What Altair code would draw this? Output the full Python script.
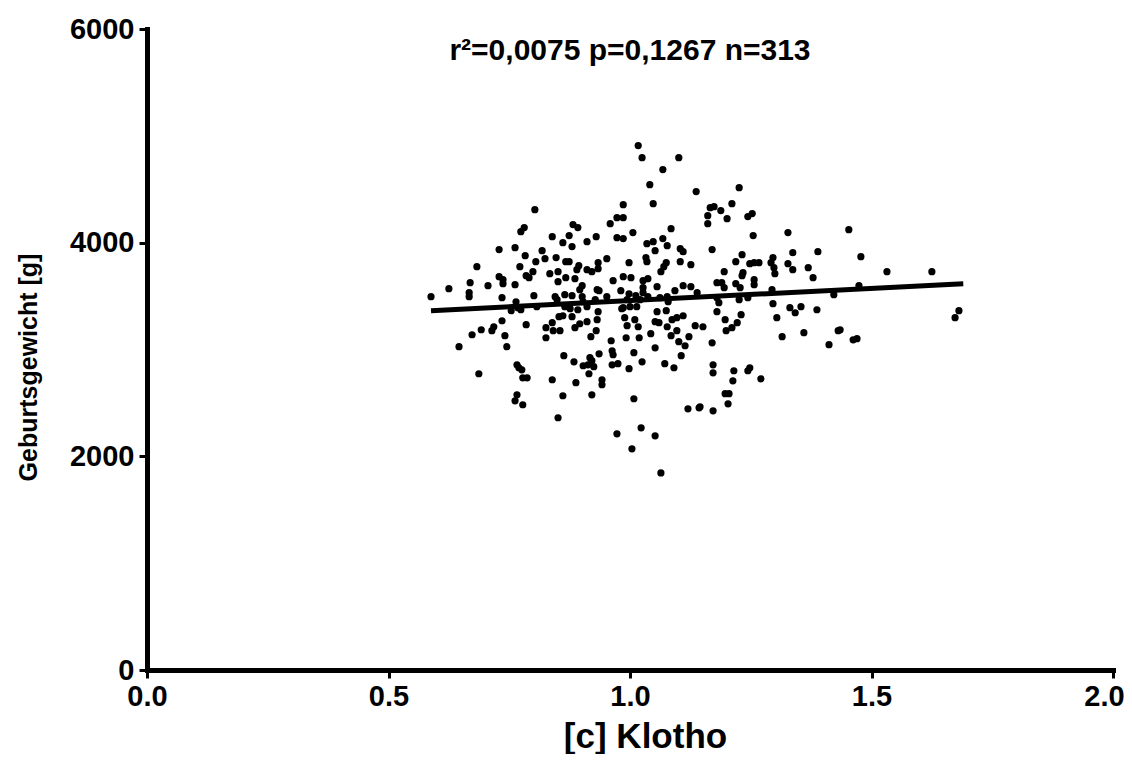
import altair as alt
import pandas as pd

# ---- data ----
klotho = [
    0.803, 0.781, 0.774, 0.839, 0.729, 0.762, 0.818, 0.783, 0.805, 0.824,
    0.847, 0.683, 0.772, 0.799, 0.785, 0.791, 0.834, 0.851, 0.729, 0.737,
    0.737, 0.669, 0.706, 0.762, 0.851, 0.625, 0.667, 0.667, 0.588, 0.735,
    0.801, 0.845, 0.764, 0.807, 0.768, 0.849, 0.754, 0.774, 0.735, 0.785,
    0.826, 0.839, 0.841, 0.853, 0.855, 0.692, 0.673, 0.718, 0.714, 0.741,
    0.826, 0.646, 0.745, 0.766, 0.770, 0.776, 0.687, 0.778, 0.787, 0.839,
    0.766, 0.762, 0.778, 0.851, 1.017, 1.025, 1.101, 1.068, 1.041, 1.137,
    0.986, 1.048, 0.973, 0.986, 0.959, 0.882, 0.892, 1.006, 1.085, 0.874,
    0.930, 0.861, 0.880, 0.911, 0.973, 0.986, 1.035, 1.048, 1.068, 1.077,
    1.052, 1.104, 1.110, 0.952, 1.033, 1.035, 0.867, 0.874, 0.894, 0.890,
    0.934, 0.998, 1.075, 1.070, 1.064, 1.104, 1.126, 0.911, 0.921, 0.934,
    0.867, 0.886, 0.965, 0.986, 1.002, 1.027, 1.037, 0.901, 0.896, 0.932,
    0.936, 0.981, 0.998, 1.056, 1.027, 1.027, 1.093, 1.110, 1.126, 0.865,
    0.880, 0.901, 0.952, 1.012, 1.037, 1.077, 0.903, 0.911, 0.928, 0.994,
    1.021, 0.986, 1.062, 1.079, 1.139, 0.865, 0.876, 0.892, 0.934, 0.983,
    1.000, 1.014, 1.056, 1.075, 0.861, 0.880, 0.932, 0.911, 0.886, 0.896,
    0.930, 0.919, 0.989, 0.994, 1.010, 1.017, 1.052, 1.060, 1.077, 1.087,
    1.097, 1.110, 1.097, 1.085, 1.043, 1.019, 0.992, 0.961, 1.135, 1.122,
    1.101, 1.114, 1.052, 0.963, 0.965, 0.936, 1.008, 1.106, 0.863, 0.884,
    0.917, 0.921, 0.903, 0.913, 0.925, 0.963, 0.975, 1.025, 0.998, 1.072,
    1.091, 0.915, 0.942, 0.942, 0.888, 0.861, 0.921, 1.008, 1.120, 1.143,
    1.023, 0.973, 1.052, 1.004, 1.064, 1.226, 1.211, 1.166, 1.174, 1.188,
    1.161, 1.201, 1.244, 1.253, 1.161, 1.255, 1.327, 1.170, 1.232, 1.219,
    1.337, 1.389, 1.248, 1.257, 1.267, 1.296, 1.292, 1.298, 1.300, 1.327,
    1.337, 1.369, 1.379, 1.195, 1.234, 1.232, 1.180, 1.190, 1.195, 1.219,
    1.228, 1.257, 1.257, 1.294, 1.422, 1.180, 1.184, 1.226, 1.244, 1.296,
    1.331, 1.354, 1.387, 1.180, 1.197, 1.230, 1.222, 1.151, 1.199, 1.211,
    1.170, 1.342, 1.304, 1.315, 1.360, 1.412, 1.431, 1.172, 1.172, 1.215,
    1.213, 1.244, 1.248, 1.271, 1.197, 1.205, 1.203, 1.145, 1.172, 1.453,
    1.478, 1.532, 1.625, 1.474, 1.681, 1.673, 1.435, 1.462, 1.470,
]
gewicht = [
    4309, 4141, 4103, 4056, 3935, 3953, 3925, 3878, 3822, 3850,
    3860, 3775, 3775, 3728, 3691, 3672, 3710, 3728, 3682, 3654,
    3616, 3625, 3597, 3607, 3635, 3569, 3532, 3494, 3494, 3485,
    3504, 3494, 3447, 3401, 3391, 3466, 3363, 3372, 3269, 3232,
    3204, 3251, 3176, 3307, 3176, 3185, 3138, 3213, 3176, 3129,
    3110, 3026, 3026, 2857, 2829, 2810, 2773, 2735, 2735, 2717,
    2576, 2520, 2483, 2361, 4909, 4796, 4796, 4684, 4543, 4478,
    4356, 4365, 4234, 4234, 4178, 4169, 4141, 4094, 4131, 4066,
    4056, 4000, 3963, 4009, 4047, 4038, 3991, 4009, 4038, 3972,
    3925, 3944, 3916, 3850, 3860, 3822, 3822, 3822, 3785, 3747,
    3813, 3813, 3813, 3775, 3728, 3822, 3794, 3747, 3728, 3757,
    3672, 3663, 3644, 3682, 3672, 3644, 3663, 3597, 3560, 3560,
    3551, 3551, 3522, 3588, 3579, 3532, 3551, 3597, 3588, 3513,
    3504, 3494, 3494, 3504, 3494, 3494, 3447, 3401, 3466, 3466,
    3466, 3391, 3485, 3447, 3532, 3401, 3382, 3372, 3354, 3382,
    3401, 3401, 3354, 3363, 3316, 3307, 3279, 3260, 3204, 3241,
    3176, 3120, 3298, 3223, 3279, 3213, 3260, 3251, 3213, 3279,
    3298, 3316, 3176, 3129, 3148, 3110, 3110, 3082, 3223, 3120,
    3073, 3035, 3016, 2988, 2951, 2960, 2970, 2942, 2942, 2885,
    2923, 2895, 2848, 2857, 2839, 2857, 2867, 2885, 2820, 2867,
    2829, 2773, 2717, 2670, 2689, 2567, 2576, 2539, 2445, 2454,
    2267, 2211, 2192, 2070, 1845, 4515, 4365, 4328, 4337, 4300,
    4253, 4225, 4244, 4272, 4178, 4066, 4094, 3935, 3888, 3822,
    3906, 3916, 3803, 3813, 3813, 3860, 3813, 3766, 3710, 3803,
    3747, 3766, 3672, 3728, 3719, 3691, 3625, 3625, 3579, 3616,
    3579, 3654, 3607, 3560, 3513, 3485, 3438, 3466, 3485, 3429,
    3391, 3401, 3372, 3354, 3279, 3326, 3251, 3213, 3176, 3204,
    3063, 3344, 3298, 3120, 3157, 3045, 3176, 2857, 2782, 2801,
    2707, 2801, 2829, 2726, 2586, 2586, 2492, 2464, 2426, 4122,
    3869, 3728, 3728, 3597, 3363, 3298, 3185, 3091, 3101,
]
fit_x = [0.588, 1.69]
fit_y = [3363, 3616]
x_ticks = [0.0, 0.5, 1.0, 1.5, 2.0]
y_ticks = [0, 2000, 4000, 6000]
stat_text = ["r\u00b2=0,0075 p=0,1267 n=313"]

FONT = "Liberation Sans"

points = pd.DataFrame({"klotho": klotho, "gewicht": gewicht})
fit = pd.DataFrame({"klotho": fit_x, "gewicht": fit_y})
label = pd.DataFrame({"t": stat_text})

x_enc = alt.X(
    "klotho:Q",
    scale=alt.Scale(domain=[0, 2], nice=False, zero=False),
    axis=alt.Axis(
        values=x_ticks, format=".1f", title="[c] Klotho", labelFlush=False,
        labelOffset={"expr": "datum.value == 2 ? -9 : 0"},
        titleFontSize=35, titleX=498, titleY=66, titleBaseline="middle",
        titleAlign="center", labelPadding=4,
    ),
)
y_enc = alt.Y(
    "gewicht:Q",
    scale=alt.Scale(domain=[0, 6000], nice=False),
    axis=alt.Axis(
        values=y_ticks, format="d", title="Geburtsgewicht [g]", labelFlush=False,
        titleFontSize=25, titleX=-119, titleY=338, titleAngle=270,
        titleBaseline="middle", titleAlign="center", labelPadding=5,
    ),
)

scatter = alt.Chart(points).mark_circle(size=52, color="black", opacity=1).encode(
    x=x_enc, y=y_enc
)
line = alt.Chart(fit).mark_line(color="black", strokeWidth=5).encode(
    x="klotho:Q", y="gewicht:Q"
)
txt = alt.Chart(label).mark_text(
    font=FONT, fontSize=30, fontWeight="bold", color="black", baseline="middle", align="center"
).encode(x=alt.value(483), y=alt.value(22), text="t:N")

chart = (
    alt.layer(scatter, line, txt)
    .properties(
        width=966, height=641,
        autosize=alt.AutoSizeParams(type="none"),
        padding={"left": 139, "top": 21, "right": 11, "bottom": 84},
        background="white",
    )
    .configure_view(stroke=None)
    .configure_axis(
        grid=False,
        domainColor="black", domainWidth=5, domainCap="square",
        tickColor="black", tickWidth=3, tickSize=8,
        labelFont=FONT, labelFontSize=29, labelFontWeight="bold", labelColor="black",
        titleFont=FONT, titleFontWeight="bold", titleColor="black",
    )
)

chart.save("out.html", embed_options={"renderer": "svg", "actions": False})
